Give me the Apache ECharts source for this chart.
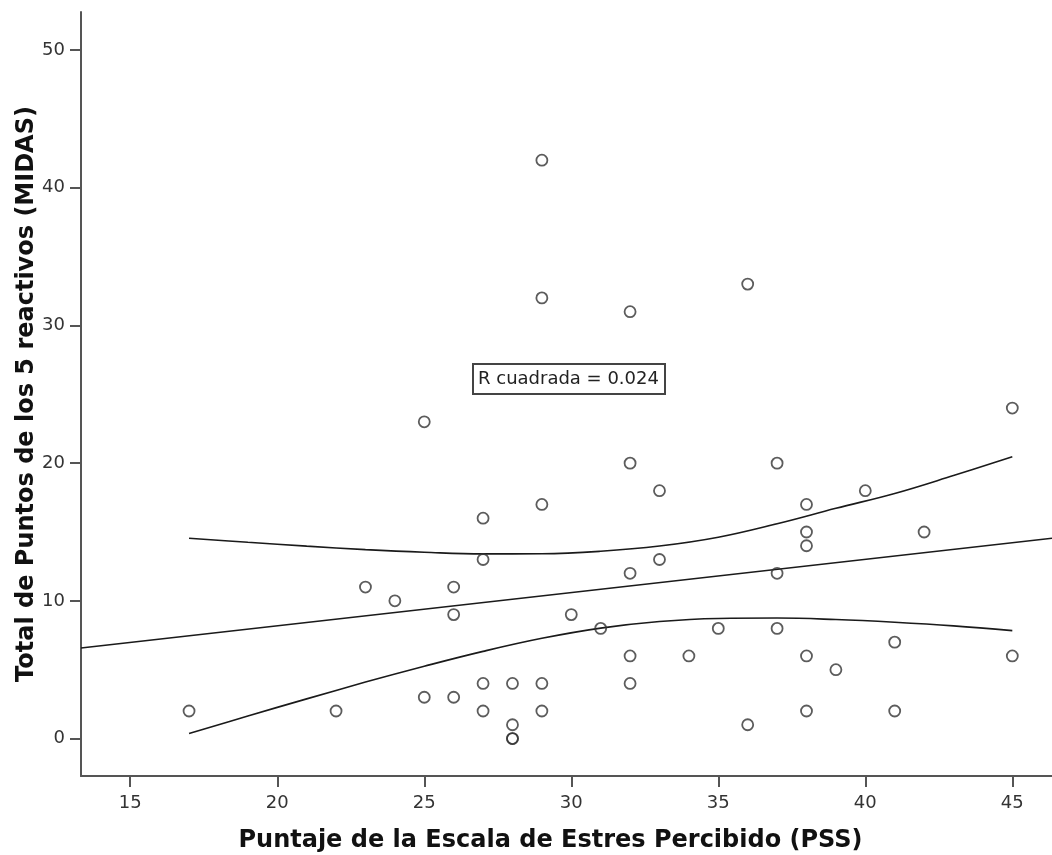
<!DOCTYPE html>
<html>
<head>
<meta charset="utf-8">
<script src="https://cdn.jsdelivr.net/npm/echarts@6/dist/echarts.min.js"></script>
<style>
html,body{margin:0;padding:0;background:#fff;}
#chart{width:1052px;height:855px;}
</style>
</head>
<body>
<div id="chart"></div>
<script>
// PSS score (x) vs MIDAS total (y)
const pssScores = [17,22,23,24,25,25,26,26,26,27,27,27,27,28,28,28,28,29,29,29,29,29,30,31,32,32,32,32,32,33,33,34,35,36,36,37,37,37,38,38,38,38,38,39,40,41,41,42,45,45];
const midasScores = [2,2,11,10,23,3,11,9,3,16,13,4,2,4,1,0,0,42,32,17,4,2,9,8,31,20,12,6,4,18,13,6,8,33,1,20,12,8,17,15,14,6,2,5,18,7,2,15,24,6];

// Linear fit line (read at the axis edges)
const fitX = [13.325, 46.35];
const fitY = [6.58, 14.55];

// 95% confidence band for the mean
const ciX     = [17, 19, 21, 23, 25, 27, 29, 31, 33, 35, 37, 39, 41, 43, 45];
const ciUpper = [14.55, 14.25, 13.97, 13.72, 13.53, 13.41, 13.42, 13.6, 13.98, 14.62, 15.6, 16.72, 17.8, 19.1, 20.46];
const ciLower = [0.36, 1.64, 2.88, 4.1, 5.25, 6.33, 7.28, 8.02, 8.5, 8.72, 8.75, 8.64, 8.44, 8.18, 7.84];

const xTicks = [15, 20, 25, 30, 35, 40, 45];
const yTicks = [0, 10, 20, 30, 40, 50];

const rSquaredText = 'R cuadrada = 0.024';
const xTitle = 'Puntaje de la Escala de Estres Percibido (PSS)';
const yTitle = 'Total de Puntos de los 5 reactivos (MIDAS)';

const pts = pssScores.map((x, i) => [x, midasScores[i]]);
const zip = (a, b) => a.map((v, i) => [v, b[i]]);

const chart = echarts.init(document.getElementById('chart'), null, {renderer: 'canvas'});
const axisCol = '#555';
const labelStyle = {color: '#333', fontFamily: 'DejaVu Sans', fontSize: 18};
const titleFont = {color: '#111', fontFamily: 'DejaVu Sans', fontWeight: 'bold', fontSize: 24};

chart.setOption({
  animation: false,
  backgroundColor: '#fff',
  title: {
    text: rSquaredText,
    left: 473, top: 364,
    padding: [4, 6, 4, 5],
    borderColor: '#444', borderWidth: 2,
    backgroundColor: '#fff',
    textStyle: {color: '#222', fontFamily: 'DejaVu Sans', fontWeight: 'normal', fontSize: 18, lineHeight: 22}
  },
  grid: {left: 81, right: 0, top: 12, bottom: 79, containLabel: false, outerBoundsMode: 'none'},
  xAxis: {
    type: 'value',
    min: 13.325, max: 46.35,
    name: xTitle,
    nameLocation: 'middle',
    nameGap: 53,
    nameMoveOverlap: false,
    nameTextStyle: Object.assign({padding: [0, 32, 0, 0]}, titleFont),
    axisLine: {show: true, onZero: false, lineStyle: {color: axisCol, width: 2}},
    axisTick: {show: true, inside: false, customValues: xTicks, length: 11, lineStyle: {color: axisCol, width: 2}},
    axisLabel: {customValues: xTicks, margin: 18, ...labelStyle},
    splitLine: {show: false}
  },
  yAxis: {
    type: 'value',
    min: -2.72, max: 52.76,
    name: yTitle,
    nameLocation: 'middle',
    nameRotate: 90,
    nameGap: 42,
    nameMoveOverlap: false,
    nameTextStyle: titleFont,
    axisLine: {show: true, onZero: false, lineStyle: {color: axisCol, width: 2}},
    axisTick: {show: true, inside: false, customValues: yTicks, length: 11, lineStyle: {color: axisCol, width: 2}},
    axisLabel: {customValues: yTicks, margin: 16, ...labelStyle},
    splitLine: {show: false}
  },
  series: [
    {
      type: 'line', data: zip(fitX, fitY), symbol: 'none',
      lineStyle: {color: '#1a1a1a', width: 1.6}, z: 2, silent: true
    },
    {
      type: 'line', data: zip(ciX, ciUpper), symbol: 'none', smooth: 0.4,
      lineStyle: {color: '#1a1a1a', width: 1.6}, z: 2, silent: true
    },
    {
      type: 'line', data: zip(ciX, ciLower), symbol: 'none', smooth: 0.4,
      lineStyle: {color: '#1a1a1a', width: 1.6}, z: 2, silent: true
    },
    {
      type: 'scatter', data: pts, symbol: 'circle', symbolSize: 11,
      itemStyle: {color: 'rgba(255,255,255,0)', borderColor: '#333', borderWidth: 1.8},
      z: 3
    }
  ]
});
</script>
</body>
</html>
